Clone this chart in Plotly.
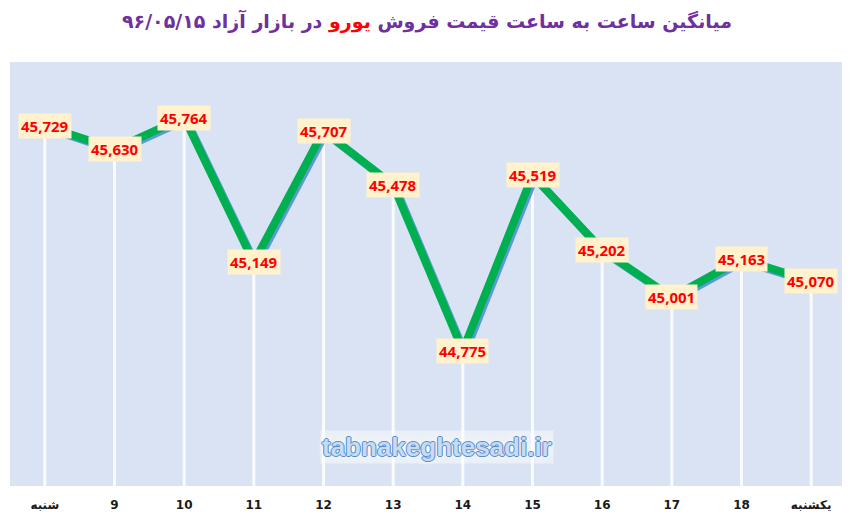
import plotly.graph_objects as go

# average hourly euro price, 96/05/15
hours = ["شنبه", "9", "10", "11", "12", "13", "14", "15", "16", "17", "18", "یکشنبه"]
prices = [45729, 45630, 45764, 45149, 45707, 45478, 44775, 45519, 45202, 45001, 45163, 45070]

y_min, y_max = 44200, 46000
n = len(hours)
idx = list(range(n))

fig = go.Figure()

# white drop lines from each point to the floor
fig.add_trace(go.Scatter(
    x=idx, y=prices, mode="markers",
    marker=dict(size=1, color="rgba(0,0,0,0)"),
    error_y=dict(type="data", symmetric=False, array=[0] * n,
                 arrayminus=[p - y_min for p in prices],
                 width=0, thickness=3, color="rgba(255,255,255,0.85)"),
    hoverinfo="skip", showlegend=False,
))

# blue shadow, drawn on slightly shifted axes
fig.add_trace(go.Scatter(
    x=idx, y=prices, mode="lines", xaxis="x2", yaxis="y2",
    line=dict(color="#5B9BD5", width=8),
    hoverinfo="skip", showlegend=False,
))

# main green line on top
fig.add_trace(go.Scatter(
    x=idx, y=prices, mode="lines", xaxis="x3", yaxis="y3",
    line=dict(color="#00B050", width=8),
    showlegend=False,
))

# value labels
for i, p in zip(idx, prices):
    fig.add_annotation(
        x=i, y=p, text=f"<b>{p:,}</b>", showarrow=False,
        font=dict(family="Open Sans", size=15, color="#FF0000"),
        bgcolor="#FFF2CC", borderpad=2,
    )

# watermark
fig.add_annotation(
    x=0.511, y=0.092, xref="paper", yref="paper", xanchor="center", yanchor="middle",
    text="<b>tabnakeghtesadi.ir</b>", showarrow=False,
    font=dict(family="Liberation Sans", size=26, color="#C5DCF3",
              shadow="1px 0 0 #5A8BC9, -1px 0 0 #5A8BC9, 0 1px 0 #5A8BC9, 0 -1px 0 #5A8BC9, 0 0 8px #FFFFFF"),
    bgcolor="rgba(255,255,255,0.45)",
)

title = ("<b>میانگین ساعت به ساعت قیمت فروش <span style='color:#FF0000'>یورو</span>"
         " در بازار آزاد ۹۶/۰۵/۱۵</b>")

dx = 0.03   # ~2px
dy = 9      # ~2px
x_rng = [-0.5, n - 0.5]

fig.update_layout(
    width=842, height=512,
    margin=dict(l=2, r=4, t=54, b=34),
    paper_bgcolor="white",
    plot_bgcolor="#DAE3F3",
    title=dict(text=title, x=0.4976, xanchor="center", y=0.973, yanchor="middle",
               font=dict(family="DejaVu Sans", size=19, color="#7030A0")),
    xaxis=dict(range=x_rng, tickmode="array", tickvals=idx, ticktext=hours,
               showgrid=False, zeroline=False, ticks="outside", ticklen=8,
               tickcolor="rgba(0,0,0,0)",
               tickfont=dict(family="DejaVu Sans", size=12, color="#1A1A1A", weight="bold")),
    yaxis=dict(range=[y_min, y_max], showgrid=False, zeroline=False, showticklabels=False),
    xaxis2=dict(range=[x_rng[0] - dx, x_rng[1] - dx], overlaying="x", visible=False),
    yaxis2=dict(range=[y_min + dy, y_max + dy], overlaying="y", visible=False),
    xaxis3=dict(range=x_rng, overlaying="x", visible=False),
    yaxis3=dict(range=[y_min, y_max], overlaying="y", visible=False),
)

fig.write_html("out.html")
